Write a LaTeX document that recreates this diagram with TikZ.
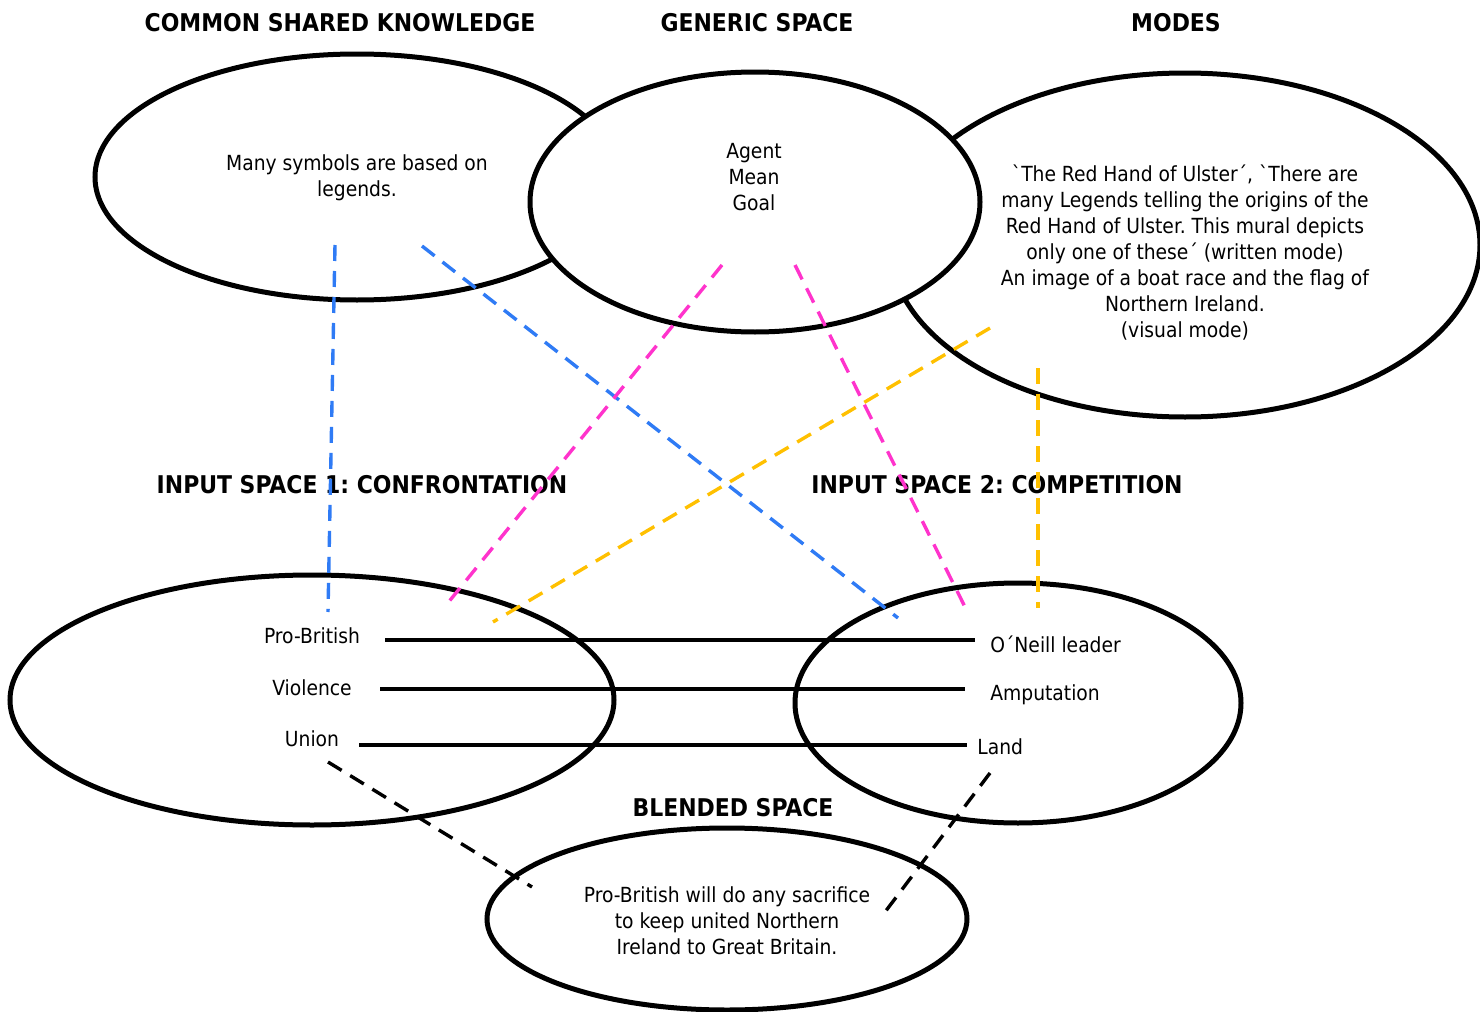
\documentclass[tikz,border=0pt]{standalone}
\usepackage{fontspec}
\setmainfont{DejaVu Sans Condensed}
\usetikzlibrary{shapes.geometric}
\definecolor{linkblue}{HTML}{2F7BF5}
\definecolor{linkpink}{HTML}{FF33CC}
\definecolor{linkgold}{HTML}{FFC000}
\frenchspacing
\begin{document}
\begin{tikzpicture}[x=0.5pt,y=-0.5pt,
  oval/.style={ellipse,draw=black,line width=2.5pt,fill=white,inner sep=0pt},
  heading/.style={font=\fontsize{12.2}{14}\selectfont\bfseries,inner sep=0pt},
  body/.style={font=\fontsize{10.4}{13}\selectfont,align=center,inner sep=0pt},
  term/.style={font=\fontsize{10.4}{13}\selectfont,inner sep=0pt},
  link/.style={line width=1.7pt,dash pattern=on 8pt off 5pt},
  pair/.style={line width=1.6pt}]
\useasboundingbox (0,0) rectangle (1480,1012);

% spaces of the network
\node[oval,minimum width=262pt,minimum height=123pt] (common) at (357,177) {};
\node[oval,minimum width=295pt,minimum height=172pt] (modes) at (1185,245) {};
\node[oval,minimum width=225pt,minimum height=130pt] (generic) at (755,202) {};
\node[oval,fill=none,minimum width=302pt,minimum height=125pt] (input1) at (312,700) {};
\node[oval,fill=none,minimum width=223pt,minimum height=120pt] (input2) at (1018,703) {};
\node[oval,fill=none,minimum width=240pt,minimum height=91pt] (blend) at (727,919) {};

% headings
\node[heading] (hcommon) at (340,23) {COMMON SHARED KNOWLEDGE};
\node[heading] (hgeneric) at (757,23) {GENERIC SPACE};
\node[heading] (hmodes) at (1176,23) {MODES};
\node[heading] (hin1) at (362,485) {INPUT SPACE 1: CONFRONTATION};
\node[heading] (hin2) at (997,485) {INPUT SPACE 2: COMPETITION};
\node[heading] (hblend) at (733,808) {BLENDED SPACE};

% contents
\node[body] (tcommon) at (357,178) {Many symbols are based on\\legends.};
\node[body] (tgeneric) at (754,177) {Agent\\Mean\\Goal};
\node[body] (tmodes) at (1185,253) {\textasciigrave The Red Hand of Ulster´, \textasciigrave There are\\many Legends telling the origins of the\\Red Hand of Ulster. This mural depicts\\only one of these´ (written mode)\\An image of a boat race and the flag of\\Northern Ireland.\\(visual mode)};
\node[body] (tblend) at (727,921) {Pro-British will do any sacrifice\\to keep united Northern\\Ireland to Great Britain.};

\node[term] (pro) at (312,636) {Pro-British};
\node[term] (vio) at (312,688) {Violence};
\node[term] (uni) at (312,739) {Union};
\node[term,anchor=west] (one) at (990,644) {O´Neill leader};
\node[term,anchor=west] (amp) at (990,695) {Amputation};
\node[term,anchor=west] (land) at (977,747) {Land};

% counterpart links between the two inputs
\coordinate (p1) at (385,640);  \coordinate (p2) at (975,640);
\coordinate (v1) at (380,689);  \coordinate (v2) at (965,689);
\coordinate (u1) at (359,745);  \coordinate (u2) at (967,745);
\draw[pair] (p1) -- (p2);
\draw[pair] (v1) -- (v2);
\draw[pair] (u1) -- (u2);

% projections between spaces
\coordinate (ba) at (335,245);  \coordinate (bb) at (328,612);
\coordinate (bc) at (422,246);  \coordinate (bd) at (898,618);
\coordinate (pa) at (722,265);  \coordinate (pb) at (447,604);
\coordinate (pc) at (795,265);  \coordinate (pd) at (965,607);
\coordinate (ya) at (990,328);  \coordinate (yb) at (493,622);
\coordinate (yc) at (1038,368); \coordinate (yd) at (1038,608);
\coordinate (ka) at (328,762);  \coordinate (kb) at (532,887);
\coordinate (kc) at (990,773);  \coordinate (kd) at (885,912);
\draw[link,linkblue] (ba) -- (bb);
\draw[link,linkblue] (bc) -- (bd);
\draw[link,linkpink] (pa) -- (pb);
\draw[link,linkpink] (pc) -- (pd);
\draw[link,linkgold] (ya) -- (yb);
\draw[link,linkgold] (yc) -- (yd);
\draw[link,black] (ka) -- (kb);
\draw[link,black] (kc) -- (kd);
\end{tikzpicture}
\end{document}
